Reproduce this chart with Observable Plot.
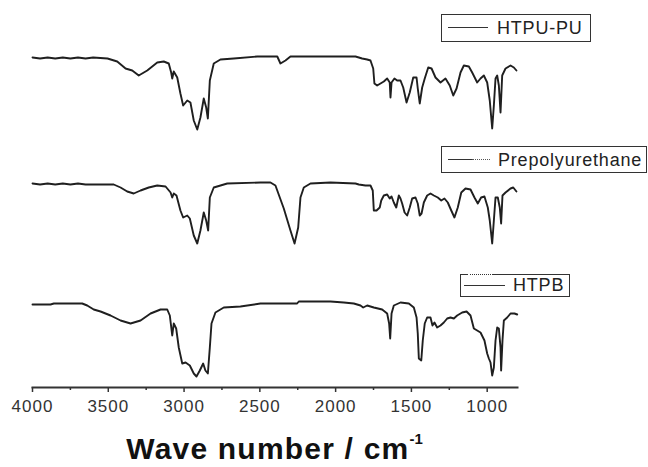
<!DOCTYPE html>
<html>
<head>
<meta charset="utf-8">
<script src="https://cdn.jsdelivr.net/npm/d3@7"></script>
<script src="https://cdn.jsdelivr.net/npm/@observablehq/plot@0.6"></script>
<style>
  body { margin: 0; background: #fff; }
  #wrap { position: relative; width: 648px; height: 467px; font-family: "Liberation Sans", Arial, sans-serif; color: #222; }
  #chart { position: absolute; left: 0; top: 0; }
  .box { position: absolute; box-sizing: border-box; border: 1.5px solid #333; background: #fff; }
  .sample { position: absolute; height: 0; border-top: 1.5px solid #333; }
  .dots { position: absolute; height: 0; border-top: 1.5px dotted #555; }
  .lab { position: absolute; height: 20px; line-height: 20px; font-size: 18px; letter-spacing: 0.8px; color: #222; white-space: nowrap; }
  #title { position: absolute; left: 22px; width: 505px; top: 435px; height: 28px; line-height: 28px; text-align: center; font-size: 30px; font-weight: bold; letter-spacing: 1.2px; color: #111; white-space: nowrap; }
  #title span { font-size: 15px; position: relative; top: -15px; letter-spacing: 0; }
  svg text { letter-spacing: 1px; }
</style>
</head>
<body>
<div id="wrap">
  <div id="chart"></div>
</div>
<script>
// Series names (legend labels)
const seriesNames = ["HTPU-PU", "Prepolyurethane", "HTPB"];

// Spectra: [wavenumber (cm-1), stacked transmittance (a.u.)]
const htpuPu = [[4000,330],[3950,329],[3900,330],[3850,329],[3800,330],[3750,329],[3700,330],[3650,329],[3600,330],[3505,329],[3441,326],[3386,319],[3342,317],[3299,312],[3243,317],[3177,325],[3134,326],[3101,324],[3085,315],[3078,309],[3068,316],[3045,310],[3024,294],[3006,282],[2979,287],[2958,285],[2936,267],[2913,258],[2892,270],[2870,289],[2854,280],[2843,269],[2830,307],[2804,324],[2760,328],[2672,329],[2517,331],[2385,331],[2364,324],[2331,327],[2298,331],[2034,331],[1869,331],[1825,329],[1792,328],[1770,327],[1752,319],[1744,304],[1726,302],[1704,304],[1682,306],[1660,309],[1643,305],[1638,290],[1631,305],[1612,309],[1594,307],[1572,307],[1554,300],[1532,285],[1511,295],[1488,310],[1466,310],[1458,299],[1445,284],[1429,300],[1412,309],[1389,320],[1367,319],[1341,310],[1308,305],[1275,309],[1247,302],[1224,292],[1202,299],[1176,315],[1154,322],[1121,321],[1099,315],[1066,305],[1044,309],[1022,312],[1000,305],[983,287],[967,259],[956,282],[945,309],[934,312],[923,302],[912,275],[901,312],[879,319],[846,322],[824,320],[807,317]];

const prepolyurethane = [[4000,204],[3950,203],[3900,204],[3850,203],[3800,204],[3750,203],[3700,204],[3650,203],[3573,203],[3464,203],[3419,200],[3375,196],[3332,194],[3287,197],[3233,200],[3177,202],[3122,201],[3089,195],[3078,190],[3068,194],[3050,192],[3024,177],[3006,170],[2979,172],[2962,169],[2936,152],[2913,144],[2892,157],[2870,175],[2854,167],[2841,157],[2830,190],[2804,200],[2715,204],[2496,205],[2430,205],[2397,202],[2342,179],[2298,157],[2271,144],[2247,160],[2232,190],[2210,200],[2166,204],[2034,205],[1869,204],[1847,203],[1803,202],[1770,202],[1755,197],[1748,177],[1730,177],[1709,180],[1699,187],[1682,192],[1660,193],[1643,189],[1631,191],[1616,185],[1600,180],[1583,192],[1572,189],[1561,184],[1545,175],[1528,172],[1511,180],[1495,189],[1473,190],[1458,184],[1445,172],[1433,174],[1418,185],[1396,192],[1374,194],[1352,192],[1326,190],[1303,187],[1282,189],[1260,185],[1237,177],[1216,170],[1194,180],[1171,195],[1143,199],[1110,198],[1084,190],[1062,184],[1040,190],[1018,191],[996,180],[983,167],[967,144],[956,167],[945,190],[930,190],[917,180],[908,164],[899,192],[879,195],[846,199],[828,200],[807,196]];

const htpb = [[4000,83],[3881,83],[3859,84],[3672,84],[3639,82],[3596,78],[3551,76],[3485,72],[3419,67],[3353,64],[3287,67],[3221,74],[3155,78],[3111,78],[3094,72],[3078,52],[3068,64],[3052,59],[3035,40],[3012,24],[2990,25],[2962,22],[2936,14],[2918,11],[2896,17],[2874,24],[2859,17],[2843,14],[2830,40],[2819,64],[2793,75],[2738,80],[2628,81],[2496,84],[2254,84],[2243,86],[2034,86],[1946,85],[1880,84],[1836,82],[1818,80],[1792,82],[1748,80],[1693,78],[1660,74],[1647,64],[1640,49],[1631,74],[1616,82],[1572,85],[1517,84],[1484,80],[1466,70],[1458,54],[1451,29],[1435,27],[1425,47],[1412,64],[1396,70],[1374,70],[1361,62],[1348,65],[1330,60],[1308,62],[1286,65],[1264,69],[1242,70],[1220,69],[1198,72],[1165,75],[1136,76],[1110,72],[1088,59],[1044,55],[1018,47],[1000,34],[989,29],[978,25],[967,12],[956,20],[945,47],[934,60],[923,59],[912,40],[908,17],[899,47],[890,67],[868,70],[846,74],[820,74],[802,73]];

// Tick values
const majorTicks = [4000, 3500, 3000, 2500, 2000, 1500, 1000];
const minorTicks = [3750, 3250, 2750, 2250, 1750, 1250];

const table = [];
[htpuPu, prepolyurethane, htpb].forEach((s, i) => {
  s.forEach(([wn, t]) => table.push({series: seriesNames[i], wn, t}));
});

const chart = Plot.plot({
  width: 648,
  height: 420,
  marginLeft: 32,
  marginRight: 131,
  marginTop: 47,
  marginBottom: 33,
  style: {fontFamily: "'Liberation Sans', Arial, sans-serif", fontSize: "17px", color: "#333", background: "#fff"},
  x: {domain: [4000, 800]},
  y: {domain: [0, 340], axis: null},
  marks: [
    Plot.line(table, {x: "wn", y: "t", z: "series", stroke: "#1f1f1f", strokeWidth: 1.9, strokeLinejoin: "round"}),
    Plot.frame({anchor: "bottom", stroke: "#333", strokeWidth: 2}),
    Plot.axisX({ticks: majorTicks, tickSize: 5, tickPadding: 7, tickFormat: d => String(d), label: null, strokeWidth: 1.5}),
    Plot.axisX({ticks: minorTicks, tickSize: 3, tickFormat: () => "", label: null, strokeWidth: 1.5})
  ]
});
document.getElementById("chart").appendChild(chart);

// Legends (HTML boxes)
const wrap = document.getElementById("wrap");
function el(cls, css, html) {
  const d = document.createElement("div");
  d.className = cls;
  Object.assign(d.style, css);
  if (html !== undefined) d.textContent = html;
  wrap.appendChild(d);
  return d;
}
// HTPU-PU
el("box", {left: "441px", top: "14px", width: "150px", height: "28px"});
el("sample", {left: "448px", top: "27px", width: "40px"});
el("lab", {left: "497px", top: "18px"}, seriesNames[0]);
// Prepolyurethane
el("box", {left: "441px", top: "146px", width: "206px", height: "27px"});
el("sample", {left: "448px", top: "159px", width: "24px"});
el("dots", {left: "472px", top: "159px", width: "18px"});
el("lab", {left: "498px", top: "150px"}, seriesNames[1]);
// HTPB
el("box", {left: "460px", top: "274px", width: "110px", height: "23px"});
el("dots", {left: "468px", top: "274px", width: "24px", borderTopColor: "#fff"});
el("sample", {left: "464px", top: "285px", width: "41px"});
el("lab", {left: "513px", top: "275px"}, seriesNames[2]);

const title = document.createElement("div");
title.id = "title";
title.innerHTML = "Wave number / cm<span>-1</span>";
wrap.appendChild(title);
</script>
</body>
</html>
